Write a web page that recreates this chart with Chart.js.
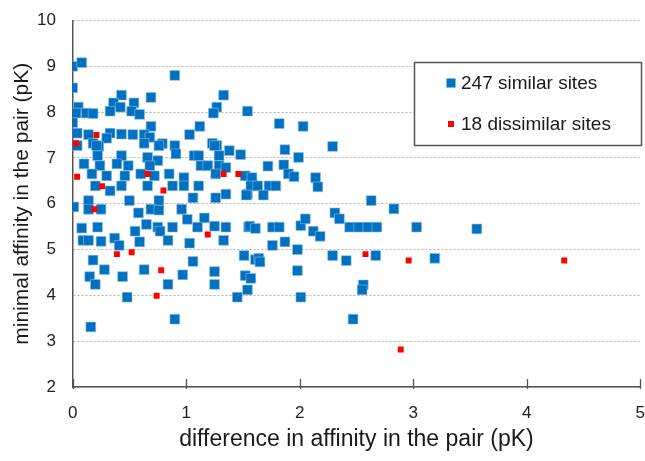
<!DOCTYPE html>
<html>
<head>
<meta charset="utf-8">
<script src="https://cdn.jsdelivr.net/npm/chart.js@4.4.1/dist/chart.umd.min.js"></script>
<style>
  body { margin: 0; background: #ffffff; }
  #chart_canvas { display: block; }
</style>
</head>
<body>
<canvas id="chart_canvas" width="645" height="461"></canvas>
<script>
// Series labels (legend text)
var similarLabel = '247 similar sites';
var dissimilarLabel = '18 dissimilar sites';

// Tick label range
var xTicks = [0, 1, 2, 3, 4, 5];
var yTicks = [2, 3, 4, 5, 6, 7, 8, 9, 10];

// difference in affinity (x) / minimal affinity (y) - similar sites
var similarX = [
  0, 0.08, 0.9, 0, 0.43, 0.69, 1.33, 0.36, 0.54, 0.05, 1.27, 0.42, 0.03, 0.12, 0.18, 0.33, 0.52, 0.59, 1.24, 1.54,
  0, 0.04, 0.14, 0.33, 0.69, 0.43, 0.53, 0.63, 0.68, 1.03, 1.12, 0.18, 0.3, 0.23, 0.63, 0.79, 0.9, 1.23, 1.27, 1.38,
  1.48, 0.04, 0.21, 0.76, 1.25, 0.22, 0.43, 0.66, 0.75, 0.91, 1.07, 1.11, 1.29, 0.1, 0.24, 0.39, 0.49, 0.68, 1.13, 1.19,
  1.29, 1.35, 0.17, 0.3, 0.46, 0.6, 0.72, 0.85, 0.98, 1.26, 1.52, 1.58, 0.2, 0.43, 0.66, 0.88, 1.11, 0.98, 0.33, 1.35,
  1.26, 1.54, 1.06, 0.76, 0.14, 0.5, 0.01, 0.14, 0.25, 0.69, 0.76, 0.96, 0.58, 1.01, 1.16, 0.08, 0.22, 0.55, 0.65, 0.75,
  0.77, 0.88, 1.1, 1.25, 1.35, 1.55, 0.09, 0.14, 0.25, 0.37, 0.41, 0.59, 0.84, 1.03, 1.33, 1.51, 1.61, 0.18, 0.63, 0.28,
  1.06, 1.25, 0.97, 0.15, 0.44, 0.2, 0.84, 1.25, 1.52, 1.57, 1.54, 1.45, 0.48, 0.9, 0.16, 1.82, 2.03, 1.87, 1.99, 2.29,
  1.72, 1.86, 1.9, 1.95, 2.14, 2.16, 1.58, 1.57, 1.63, 1.73, 1.79, 1.53, 1.68, 2.63, 2.83, 1.56, 1.61, 1.76, 1.82, 2.01,
  2.05, 2.12, 2.18, 2.31, 2.35, 2.44, 2.52, 2.6, 2.68, 3.03, 1.76, 1.87, 1.98, 1.64, 2.29, 2.41, 2.67, 3.19, 1.65, 1.98,
  2.01, 2.56, 2.55, 2.47, 3.56
];
var similarY = [
  9.0, 9.08, 8.8, 8.53, 8.37, 8.32, 8.37, 8.2, 8.2, 8.11, 8.11, 8.11, 7.98, 7.98, 7.97, 8.02, 8.02, 7.95, 7.98, 8.02,
  7.77, 7.54, 7.51, 7.54, 7.69, 7.52, 7.51, 7.51, 7.45, 7.51, 7.69, 7.32, 7.43, 7.25, 7.32, 7.31, 7.27, 7.32, 7.27, 7.16,
  7.07, 7.27, 7.27, 7.27, 7.27, 7.05, 7.05, 7.01, 6.94, 7.09, 7.05, 7.05, 7.05, 6.87, 6.83, 6.87, 6.83, 6.83, 6.83, 6.83,
  6.83, 6.79, 6.65, 6.61, 6.61, 6.65, 6.61, 6.65, 6.57, 6.65, 6.61, 6.43, 6.39, 6.39, 6.39, 6.39, 6.39, 6.39, 6.28, 6.21,
  6.13, 6.21, 6.13, 6.07, 6.07, 6.07, 5.93, 5.88, 5.88, 5.88, 5.86, 5.88, 5.8, 5.66, 5.69, 5.47, 5.49, 5.4, 5.55, 5.49,
  5.4, 5.49, 5.49, 5.51, 5.49, 5.49, 5.2, 5.2, 5.18, 5.25, 5.09, 5.17, 5.2, 5.14, 5.2, 4.87, 4.78, 4.77, 4.56, 4.56,
  4.74, 4.52, 4.45, 4.41, 4.41, 4.24, 4.24, 4.24, 4.43, 4.37, 4.12, 3.96, 3.96, 3.48, 3.31, 7.75, 7.69, 7.18, 7.01, 7.25,
  6.82, 6.85, 6.65, 6.59, 6.57, 6.37, 6.57, 6.39, 6.39, 6.39, 6.39, 6.19, 6.19, 6.07, 5.89, 5.51, 5.46, 5.49, 5.49, 5.52,
  5.67, 5.4, 5.29, 5.8, 5.67, 5.49, 5.49, 5.49, 5.49, 5.49, 5.09, 5.17, 5.0, 4.81, 4.87, 4.76, 4.87, 4.81, 4.73, 4.54,
  3.96, 4.23, 4.12, 3.48, 5.45
];

// dissimilar sites
var dissimilarX = [0.03, 0.21, 0.04, 0.66, 1.33, 1.46, 0.26, 0.8, 0.19, 1.19, 0.39, 0.52, 0.78, 0.74, 2.58, 2.96, 2.89, 4.33];
var dissimilarY = [7.32, 7.5, 6.59, 6.65, 6.65, 6.65, 6.38, 6.29, 5.88, 5.33, 4.9, 4.94, 4.55, 3.99, 4.9, 4.76, 2.82, 4.76];

function toPoints(xs, ys) {
  var pts = [];
  for (var i = 0; i < xs.length; i++) {
    pts.push({x: xs[i], y: ys[i]});
  }
  return pts;
}

var fontFamily = '"Liberation Sans", Arial, sans-serif';

// Small tick marks crossing the x axis, mostly inside the plot
var xTickMarks = {
  id: 'xTickMarks',
  afterDraw: function(chart) {
    var ctx = chart.ctx;
    var xs = chart.scales.x;
    var bottom = chart.chartArea.bottom;
    ctx.save();
    ctx.strokeStyle = '#555555';
    ctx.lineWidth = 1.3;
    xTicks.forEach(function(v) {
      var px = Math.round(xs.getPixelForValue(v)) + 0.5;
      ctx.beginPath();
      ctx.moveTo(px, bottom - 8);
      ctx.lineTo(px, bottom + 2);
      ctx.stroke();
    });
    ctx.restore();
  }
};

// Legend boxed inside the plot, right top
var boxLegend = {
  id: 'boxLegend',
  afterDraw: function(chart) {
    var ctx = chart.ctx;
    var x = 414.5, y = 62.5, w = 227, h = 83;
    ctx.save();
    ctx.fillStyle = '#ffffff';
    ctx.fillRect(x, y, w, h);
    ctx.strokeStyle = '#555555';
    ctx.lineWidth = 1.5;
    ctx.strokeRect(x, y, w, h);
    ctx.font = '19px ' + fontFamily;
    ctx.textBaseline = 'middle';
    var rows = [{ds: 0, cy: 83, size: 9}, {ds: 1, cy: 124, size: 6}];
    rows.forEach(function(r) {
      var ds = chart.data.datasets[r.ds];
      ctx.fillStyle = ds.backgroundColor;
      ctx.fillRect(451 - r.size / 2, r.cy - r.size / 2, r.size, r.size);
      ctx.fillStyle = '#1a1a1a';
      ctx.fillText(ds.label, 461, r.cy + 1);
    });
    ctx.restore();
  }
};

var chart = new Chart(document.getElementById('chart_canvas'), {
  type: 'scatter',
  data: {
    datasets: [
      {
        label: similarLabel,
        data: toPoints(similarX, similarY),
        pointStyle: 'rect',
        radius: 6.9,
        hoverRadius: 6.9,
        backgroundColor: '#0070c0',
        borderColor: '#8fbce3',
        borderWidth: 0.6,
        order: 2
      },
      {
        label: dissimilarLabel,
        data: toPoints(dissimilarX, dissimilarY),
        pointStyle: 'rect',
        radius: 4.2,
        hoverRadius: 4.2,
        backgroundColor: '#ff0000',
        borderColor: '#ff0000',
        borderWidth: 0,
        order: 1
      }
    ]
  },
  options: {
    responsive: false,
    animation: false,
    devicePixelRatio: 1,
    layout: {autoPadding: false, padding: {left: 6, top: 0, right: 0, bottom: 0}},
    plugins: {
      legend: {display: false},
      tooltip: {enabled: false}
    },
    scales: {
      x: {
        type: 'linear',
        min: xTicks[0],
        max: xTicks[xTicks.length - 1],
        ticks: {
          stepSize: 1, color: '#222222', padding: 0, maxRotation: 0,
          font: {family: fontFamily, size: 17, lineHeight: '52px'}
        },
        grid: {drawOnChartArea: false, drawTicks: false},
        border: {color: '#555555', width: 1.5},
        title: {
          display: true,
          text: 'difference in affinity in the pair (pK)',
          color: '#1a1a1a',
          font: {family: fontFamily, size: 23},
          padding: {top: -12.8, bottom: 7.2}
        }
      },
      y: {
        type: 'linear',
        min: yTicks[0],
        max: yTicks[yTicks.length - 1],
        ticks: {
          stepSize: 1, color: '#222222', padding: 12,
          font: {family: fontFamily, size: 17, lineHeight: 1},
          callback: function(value) { return value + ' '; }
        },
        grid: {color: '#b0b0b0', lineWidth: 1, drawTicks: false},
        border: {color: '#555555', width: 1.5, dash: [2, 2]},
        title: {
          display: true,
          text: 'minimal affinity in the pair (pK)',
          color: '#1a1a1a',
          font: {family: fontFamily, size: 21},
          padding: {top: 3.4, bottom: -9.6}
        }
      }
    }
  },
  plugins: [xTickMarks, boxLegend]
});
</script>
</body>
</html>
